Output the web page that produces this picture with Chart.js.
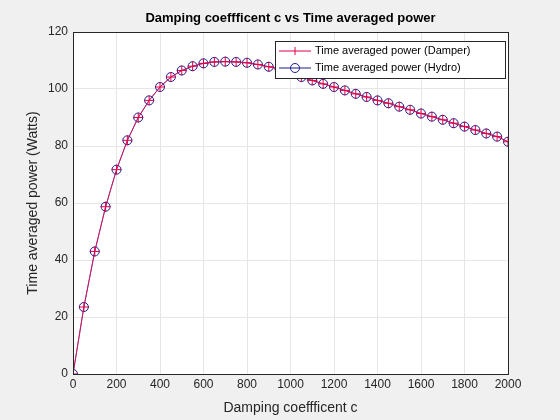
<!DOCTYPE html>
<html><head><meta charset="utf-8">
<script src="https://cdn.jsdelivr.net/npm/chart.js@4/dist/chart.umd.min.js"></script>
<style>html,body{margin:0;padding:0;background:#f0f0f0}#w{width:560px;height:420px}</style>
</head><body><div id="w"><canvas id="c"></canvas></div>
<script>
const dampingC = [0,50,100,150,200,250,300,350,400,450,500,550,600,650,700,750,800,850,900,950,1000,1050,1100,1150,1200,1250,1300,1350,1400,1450,1500,1550,1600,1650,1700,1750,1800,1850,1900,1950,2000];
const powerDamper = [0,23.5,43,58.7,71.7,82,90,96,100.7,104.2,106.5,108,109,109.5,109.6,109.5,109.2,108.6,107.8,107,106,104.2,103,101.8,100.7,99.5,98.3,97.2,96,95,93.8,92.7,91.4,90.3,89.2,88,86.8,85.6,84.4,83.3,81.5];
const powerHydro = powerDamper.slice();
const xTicks = [0,200,400,600,800,1000,1200,1400,1600,1800,2000];
const yTicks = [0,20,40,60,80,100,120];
const titleText = 'Damping coeffficent c vs Time averaged power';
const xTitle = 'Damping coeffficent c';
const yTitle = 'Time averaged power (Watts)';
const F = '"Liberation Sans", Arial';

const bgPlugin = {id:'bg', beforeDraw(ch){const a=ch.chartArea,x=ch.ctx;x.save();x.fillStyle='#fff';x.fillRect(a.left,a.top,a.right-a.left,a.bottom-a.top);x.restore();},
 afterDraw(ch){const a=ch.chartArea,x=ch.ctx;x.save();x.strokeStyle='#262626';x.lineWidth=1;x.strokeRect(a.left+0.5,a.top+0.5,a.right-a.left,a.bottom-a.top);
  const cx=(a.left+a.right)/2;
  x.textAlign='center';x.textBaseline='middle';x.fillStyle='#000';
  x.font='bold 13px '+F;x.fillText(titleText,cx,18);
  x.fillStyle='#262626';x.font='14px '+F;x.fillText(xTitle,cx,408);
  x.save();x.translate(33,(a.top+a.bottom)/2);x.rotate(-Math.PI/2);x.fillText(yTitle,0,0);x.restore();
  x.textAlign='left';
  const L=275,T=41,W=230,H=37;x.fillStyle='#fff';x.fillRect(L,T,W,H);x.strokeStyle='#262626';x.strokeRect(L+0.5,T+0.5,W,H);
  x.font='11px '+F;x.fillStyle='#000';
  let y1=T+10,y2=T+27;
  x.strokeStyle='#e0004a';x.lineWidth=1;x.beginPath();x.moveTo(L+4,y1);x.lineTo(L+36,y1);x.stroke();
  x.beginPath();x.moveTo(L+20,y1-4);x.lineTo(L+20,y1+4);x.stroke();
  x.strokeStyle='#1a1a8c';x.beginPath();x.moveTo(L+4,y2);x.lineTo(L+36,y2);x.stroke();
  x.beginPath();x.arc(L+20,y2,4.5,0,Math.PI*2);x.stroke();
  x.fillText('Time averaged power (Damper)',L+40,y1);x.fillText('Time averaged power (Hydro)',L+40,y2);
  x.restore();}};

new Chart(document.getElementById('c'),{type:'line',
 data:{labels:dampingC,datasets:[
  {data:dampingC.map((c,i)=>({x:c,y:powerDamper[i]})),borderColor:'#e0004a',borderWidth:0.8,pointStyle:'cross',pointRadius:5,pointBorderColor:'#e0004a',pointBorderWidth:1,fill:false},
  {data:dampingC.map((c,i)=>({x:c,y:powerHydro[i]})),borderColor:'#4a2a9a',borderWidth:0.8,pointStyle:'circle',pointRadius:4.5,pointBorderColor:'#1a1a8c',pointBackgroundColor:'rgba(0,0,0,0)',pointBorderWidth:1,fill:false}]},
 options:{responsive:true,maintainAspectRatio:false,animation:false,
  layout:{padding:{top:32,right:52,bottom:0,left:0}},
  plugins:{legend:{display:false},tooltip:{enabled:false},title:{display:false}},
  scales:{
   x:{type:'linear',min:0,max:2000,afterBuildTicks(s){s.ticks=xTicks.map(v=>({value:v}));},
    afterFit(s){s.height=46;},
    ticks:{color:'#262626',font:{family:F,size:12},maxRotation:0,padding:3,callback:v=>String(v)},
    grid:{color:'#e6e6e6',drawTicks:false},border:{display:false}},
   y:{min:0,max:120,afterBuildTicks(s){s.ticks=yTicks.map(v=>({value:v}));},
    afterFit(s){s.width=73;},
    ticks:{color:'#262626',font:{family:F,size:12},padding:5,callback:v=>String(v)},
    grid:{color:'#e6e6e6',drawTicks:false},border:{display:false}}}},
 plugins:[bgPlugin]});
</script></body></html>
